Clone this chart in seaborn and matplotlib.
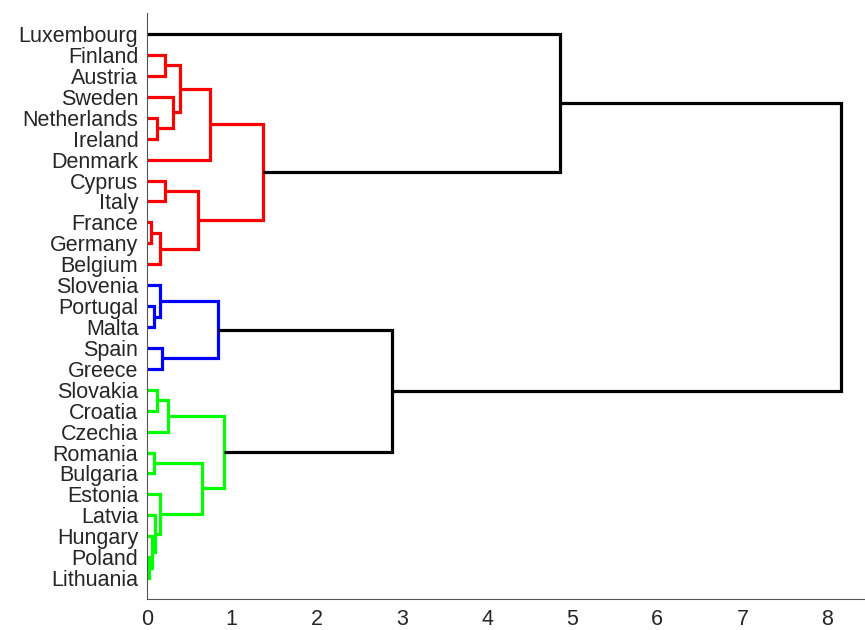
import matplotlib
matplotlib.use("Agg")
import matplotlib.pyplot as plt
import seaborn as sns

# Leaves, listed top to bottom as they appear on the chart
countries = [
    "Luxembourg", "Finland", "Austria", "Sweden", "Netherlands", "Ireland",
    "Denmark", "Cyprus", "Italy", "France", "Germany", "Belgium",
    "Slovenia", "Portugal", "Malta", "Spain", "Greece",
    "Slovakia", "Croatia", "Czechia", "Romania", "Bulgaria", "Estonia",
    "Latvia", "Hungary", "Poland", "Lithuania",
]

# Linkage: (new cluster, left child, right child, merge distance)
merges = [
    ("pl_lt", "Poland", "Lithuania", 0.03),
    ("fr_de", "France", "Germany", 0.05),
    ("hu_pl", "Hungary", "pl_lt", 0.06),
    ("ro_bg", "Romania", "Bulgaria", 0.08),
    ("pt_mt", "Portugal", "Malta", 0.09),
    ("lv_hu", "Latvia", "hu_pl", 0.10),
    ("nl_ie", "Netherlands", "Ireland", 0.12),
    ("sk_hr", "Slovakia", "Croatia", 0.12),
    ("ee_lv", "Estonia", "lv_hu", 0.16),
    ("si_pt", "Slovenia", "pt_mt", 0.16),
    ("fr_be", "fr_de", "Belgium", 0.16),
    ("es_gr", "Spain", "Greece", 0.18),
    ("fi_at", "Finland", "Austria", 0.21),
    ("cy_it", "Cyprus", "Italy", 0.22),
    ("sk_cz", "sk_hr", "Czechia", 0.25),
    ("se_nl", "Sweden", "nl_ie", 0.31),
    ("fi_se", "fi_at", "se_nl", 0.39),
    ("cy_fr", "cy_it", "fr_be", 0.60),
    ("ro_ee", "ro_bg", "ee_lv", 0.65),
    ("fi_dk", "fi_se", "Denmark", 0.74),
    ("south", "si_pt", "es_gr", 0.84),
    ("east", "sk_cz", "ro_ee", 0.91),
    ("west", "fi_dk", "cy_fr", 1.37),
    ("south_east", "south", "east", 2.88),
    ("lu_west", "Luxembourg", "west", 4.86),
    ("root", "lu_west", "south_east", 8.16),
]

cluster_colors = {"west": "#ff0000", "south": "#0000ff", "east": "#00ff00"}

sns.set_theme(style="white")
plt.rcParams["font.family"] = ["Liberation Sans", "DejaVu Sans"]

# leaf positions: 1 at the bottom, like MATLAB's dendrogram
n = len(countries)
pos = {c: n - i for i, c in enumerate(countries)}
height = {c: 0.0 for c in countries}
for name, a, b, h in merges:
    pos[name] = (pos[a] + pos[b]) / 2
    height[name] = h

# push cluster colours down the tree
color = {}
for name, a, b, h in reversed(merges):
    c = cluster_colors.get(name, color.get(name, "black"))
    color[name] = c
    color[a] = c
    color[b] = c

fig = plt.figure(figsize=(8.65, 6.3), dpi=100)
ax = fig.add_axes([0.1696, 0.0492, 0.8304, 0.930])

for name, a, b, h in merges:
    ax.plot(
        [height[a], h, h, height[b]],
        [pos[a], pos[a], pos[b], pos[b]],
        color=color[name], lw=2.3,
        solid_joinstyle="miter", solid_capstyle="butt",
    )

ax.set_xlim(0, 8.44)
ax.set_ylim(0, n + 1)
ax.set_xticks(range(0, 9))
ax.set_yticks([pos[c] for c in countries])
ax.set_yticklabels(countries)

ax.tick_params(axis="x", direction="in", length=5, width=0.8, color="#555555",
               labelsize=15.5, labelcolor="#262626", pad=7)
ax.tick_params(axis="y", length=0, labelsize=15.5, labelcolor="#262626", pad=6)

sns.despine(ax=ax, top=True, right=True)
for side in ["left", "bottom"]:
    ax.spines[side].set_color("#555555")
    ax.spines[side].set_linewidth(0.8)

fig.savefig("out.png", dpi=100)
